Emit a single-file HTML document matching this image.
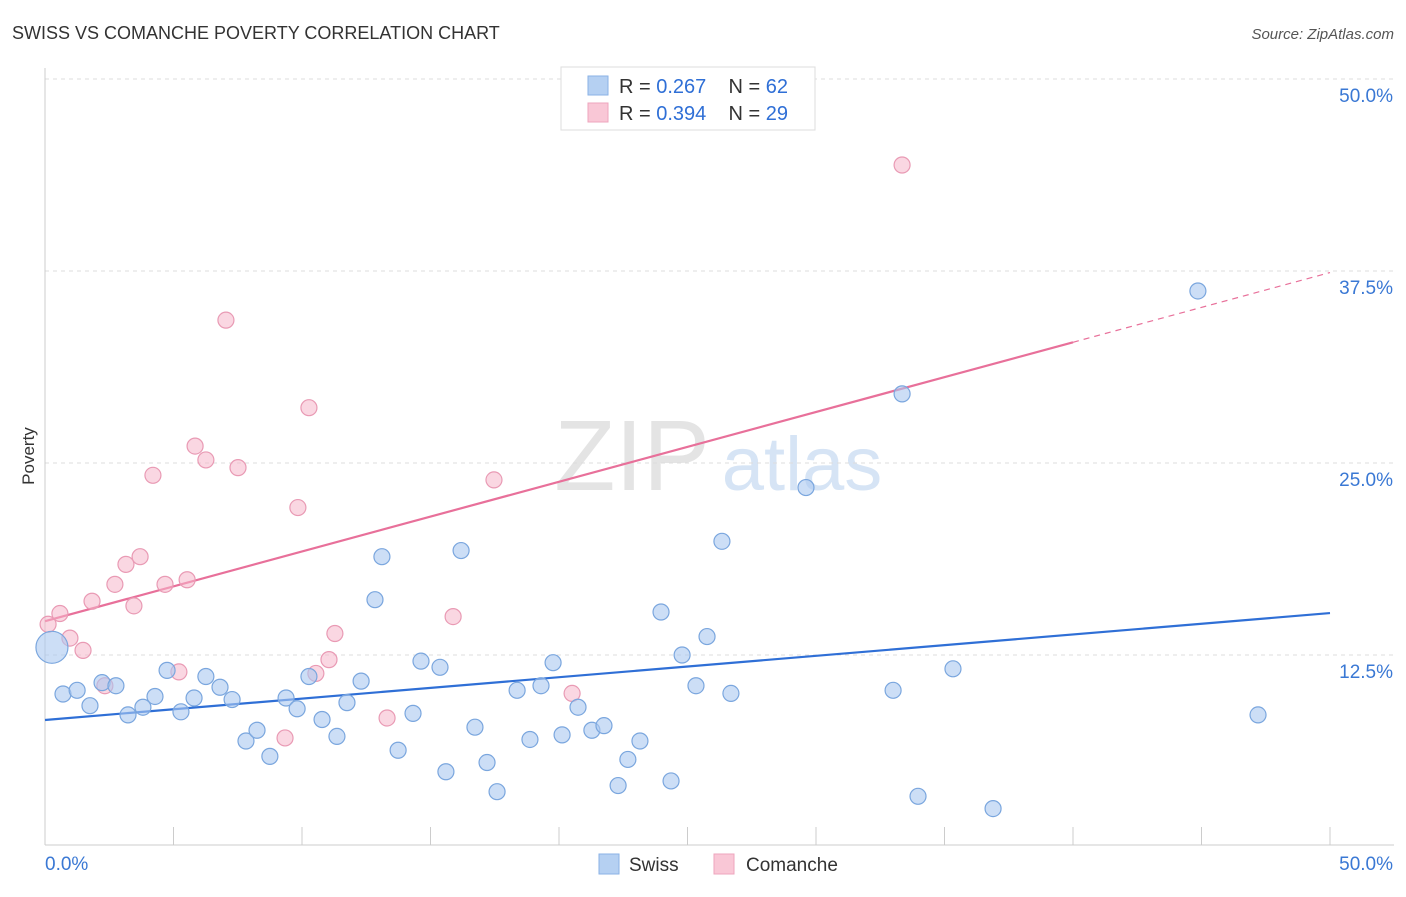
<!DOCTYPE html>
<html><head><meta charset="utf-8"><style>
body{margin:0;background:#fff;font-family:"Liberation Sans",sans-serif;}
svg text{font-family:"Liberation Sans",sans-serif;}
</style></head><body>
<svg id="chart" width="1406" height="892">
<text x="12" y="39" font-size="18" fill="#333">SWISS VS COMANCHE POVERTY CORRELATION CHART</text>
<text x="1394" y="39" font-size="15" fill="#555" font-style="italic" text-anchor="end">Source: ZipAtlas.com</text>
<text x="632" y="490" font-size="100" fill="#e4e4e4" font-family="Liberation Serif" text-anchor="middle">ZIP</text>
<text x="802" y="490" font-size="76" fill="#d6e4f5" text-anchor="middle">atlas</text>
<text x="34" y="456" font-size="17" fill="#333" transform="rotate(-90 34 456)" text-anchor="middle">Poverty</text>
<g id="grid"></g><g id="axes"></g><g id="lines"></g><g id="pts"></g>
<g>
<rect x="561" y="67" width="254" height="63" fill="#fff" stroke="#ddd"/>
<rect x="588" y="76" width="20" height="19" fill="#b5d0f2" stroke="#8ab2e6"/>
<rect x="588" y="103" width="20" height="19" fill="#f9c7d6" stroke="#eea5bd"/>
<text x="619" y="93" font-size="20" fill="#333">R = <tspan fill="#2f6fd6">0.267</tspan>&#160;&#160;&#160;&#160;N = <tspan fill="#2f6fd6">62</tspan></text>
<text x="619" y="120" font-size="20" fill="#333">R = <tspan fill="#2f6fd6">0.394</tspan>&#160;&#160;&#160;&#160;N = <tspan fill="#2f6fd6">29</tspan></text>
</g>
<g>
<rect x="599" y="854" width="20" height="20" fill="#b5d0f2" stroke="#8ab2e6"/>
<text x="629" y="871" font-size="19" fill="#333">Swiss</text>
<rect x="714" y="854" width="20" height="20" fill="#f9c7d6" stroke="#eea5bd"/>
<text x="746" y="871" font-size="19" fill="#333">Comanche</text>
</g>
</svg>
<script>
const yTicks=[12.5,25,37.5,50];
const yTickLabels=["12.5%","25.0%","37.5%","50.0%"];
const xTickLabels=["0.0%","50.0%"];
const swissX=[0.27,0.70,1.25,1.75,2.22,2.76,3.23,3.81,4.28,4.75,5.29,5.80,6.26,6.81,7.28,7.82,8.25,8.75,9.38,9.81,10.27,10.78,11.36,11.75,12.30,12.84,13.11,13.74,14.32,14.63,15.37,15.60,16.19,16.73,17.20,17.59,18.37,18.87,19.30,19.77,20.12,20.74,21.28,21.75,22.30,22.68,23.15,23.97,24.36,24.79,25.33,25.76,26.34,26.69,29.61,33.00,33.97,35.33,36.89,44.86,47.20,33.35];
const swissY=[13.0,9.96,10.2,9.2,10.7,10.5,8.6,9.1,9.8,11.5,8.8,9.7,11.1,10.4,9.6,6.9,7.6,5.9,9.7,9.0,11.1,8.3,7.2,9.4,10.8,16.1,18.9,6.3,8.7,12.1,11.7,4.9,19.3,7.8,5.5,3.6,10.2,7.0,10.5,12.0,7.3,9.1,7.6,7.9,4.0,5.7,6.9,15.3,4.3,12.5,10.5,13.7,19.9,10.0,23.4,10.2,3.3,11.6,2.5,36.2,8.6,29.5];
const comX=[0.12,0.58,0.97,1.48,1.83,2.33,2.72,3.15,3.46,3.70,4.20,4.67,5.21,5.53,5.84,6.26,7.04,7.51,9.34,9.84,10.27,10.54,11.05,11.28,13.31,15.88,17.47,20.51,33.35];
const comY=[14.5,15.2,13.6,12.8,16.0,10.5,17.1,18.4,15.7,18.9,24.2,17.1,11.4,17.4,26.1,25.2,34.3,24.7,7.1,22.1,28.6,11.3,12.2,13.9,8.4,15.0,23.9,10.0,44.4];
const swissTrend=[8.27,15.23];
const comTrend=[14.7,37.4];
const NS="http://www.w3.org/2000/svg";
const X=v=>45+v*25.7, Y=v=>847-v*15.36;
function mk(p,t,a){const e=document.createElementNS(NS,t);for(const k in a)e.setAttribute(k,a[k]);document.getElementById(p).appendChild(e);return e;}
yTicks.forEach((t,i)=>{
 const g=mk('grid','line',{x1:45,x2:1394,y1:Y(t),y2:Y(t),stroke:'#ddd','stroke-dasharray':'4,4'});
 
 
 const l=mk('grid','text',{x:1393,y:Y(t)+23,'font-size':19,fill:'#3a78d4','text-anchor':'end'});l.textContent=yTickLabels[i];
 
 
});
mk('axes','line',{x1:45,x2:45,y1:68,y2:845,stroke:'#ccc'});
mk('axes','line',{x1:45,x2:1394,y1:845,y2:845,stroke:'#ccc'});
for(let i=0;i<=10;i++){const t=mk('axes','line',{x1:X(i*5),x2:X(i*5),y1:827,y2:845,stroke:'#ccc'});
 
 }
const xl0=mk('axes','text',{x:45,y:870,'font-size':19,fill:'#3a78d4'});xl0.textContent=xTickLabels[0];


const xl1=mk('axes','text',{x:1393,y:870,'font-size':19,fill:'#3a78d4','text-anchor':'end'});xl1.textContent=xTickLabels[1];


function pt(x,y,r,f,s,n){const c=mk('pts','circle',{cx:X(x),cy:Y(y),r:r,fill:f,stroke:s,'stroke-width':1.2});
 
 }
comX.forEach((x,i)=>pt(x,comY[i],8,'rgba(246,182,202,0.55)','#e99ab4','comanche-point'));
swissX.forEach((x,i)=>pt(x,swissY[i],i===0?16:8,'rgba(170,200,240,0.6)','#7aa6de','swiss-point'));
const ls=mk('lines','line',{x1:X(0),y1:Y(swissTrend[0]),x2:X(50),y2:Y(swissTrend[1]),stroke:'#2f6fd6','stroke-width':2.2});


const cm=x=>comTrend[0]+(comTrend[1]-comTrend[0])*x/50;
const lc=mk('lines','line',{x1:X(0),y1:Y(cm(0)),x2:X(40),y2:Y(cm(40)),stroke:'#e8709a','stroke-width':2.2});


const ld=mk('lines','line',{x1:X(40),y1:Y(cm(40)),x2:X(50),y2:Y(cm(50)),stroke:'#e8709a','stroke-width':1.2,'stroke-dasharray':'6,5'});


</script>
</body></html>
